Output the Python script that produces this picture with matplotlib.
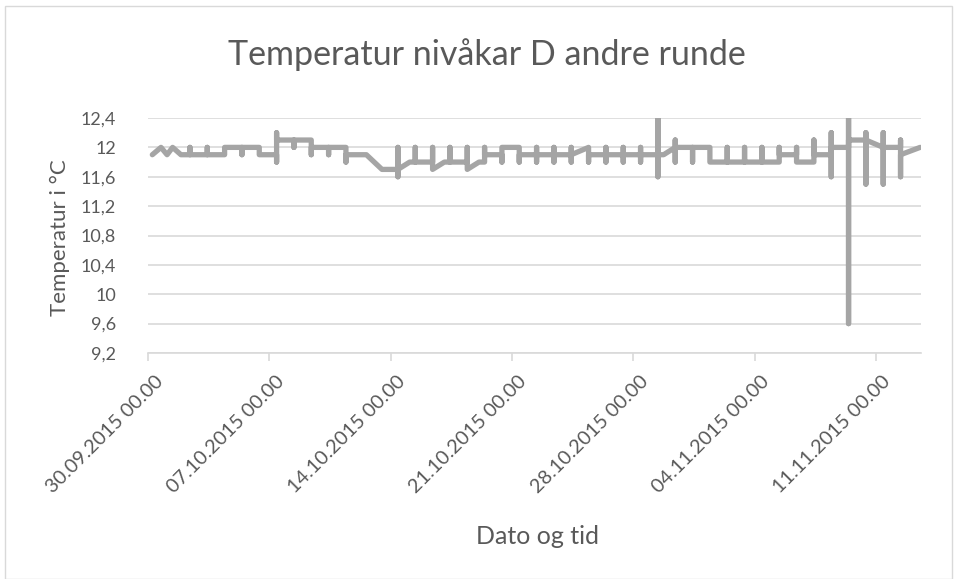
import matplotlib
matplotlib.use("Agg")
import matplotlib.pyplot as plt
from matplotlib.patches import Rectangle

# Time in days since 30.09.2015 00.00 and temperature readings (°C)
day_offset = [
    0.25, 0.75, 1.1,
    1.42, 1.9,
    2.42, 2.42, 2.42,
    3.42, 3.42, 3.42,
    4.42, 4.42,
    5.42, 5.42, 5.42,
    6.42, 6.42,
    7.42, 7.42, 7.42, 7.42,
    8.42, 8.42, 8.42,
    9.42, 9.42, 9.42,
    10.42, 10.42, 10.42,
    11.42, 11.42, 11.42,
    12.6, 13.5,
    14.42, 14.42, 14.42, 14.42, 15.1,
    15.42, 15.42, 15.42,
    16.42, 16.42, 16.42, 17.1,
    17.42, 17.42, 17.42,
    18.42, 18.42, 18.42, 19.1,
    19.42, 19.42, 19.42,
    20.42, 20.42, 20.42,
    21.42, 21.42, 21.42,
    22.42, 22.42, 22.42, 22.42,
    23.42, 23.42, 23.42, 23.42,
    24.42, 24.42, 24.42, 24.42,
    25.42, 25.42, 25.42,
    26.42, 26.42, 26.42, 26.42,
    27.42, 27.42, 27.42, 27.42,
    28.42, 28.42, 28.42, 28.42,
    29.42, 29.42, 29.42, 29.42, 29.75,
    30.42, 30.42, 30.42, 30.42,
    31.42, 31.42, 31.42,
    32.42, 32.42,
    33.42, 33.42, 33.42,
    34.42, 34.42, 34.42,
    35.42, 35.42, 35.42,
    36.42, 36.42, 36.42,
    37.42, 37.42, 37.42,
    38.42, 38.42, 38.42, 38.42,
    39.42, 39.42, 39.42, 39.42,
    40.42, 40.42, 40.42, 40.42,
    41.42, 41.42, 41.42, 41.42,
    42.42, 42.42, 42.42, 42.42,
    43.42, 43.42, 43.42, 43.42,
    44.55,
]
temp_c = [
    11.9, 12.0, 11.9,
    12.0, 11.9,
    11.9, 12.0, 11.9,
    11.9, 12.0, 11.9,
    11.9, 12.0,
    12.0, 11.9, 12.0,
    12.0, 11.9,
    11.9, 11.8, 12.2, 12.1,
    12.1, 12.0, 12.1,
    12.1, 11.9, 12.0,
    12.0, 11.9, 12.0,
    12.0, 11.8, 11.9,
    11.9, 11.7,
    11.7, 12.0, 11.6, 11.7, 11.8,
    11.8, 12.0, 11.8,
    11.8, 12.0, 11.7, 11.8,
    11.8, 12.0, 11.8,
    11.8, 12.0, 11.7, 11.8,
    11.8, 12.0, 11.9,
    11.9, 11.8, 12.0,
    12.0, 11.8, 11.9,
    11.9, 12.0, 11.8, 11.9,
    11.9, 12.0, 11.8, 11.9,
    11.9, 12.0, 11.8, 11.9,
    12.0, 11.8, 11.9,
    11.9, 12.0, 11.8, 11.9,
    11.9, 12.0, 11.8, 11.9,
    11.9, 12.0, 11.8, 11.9,
    11.9, 12.5, 11.6, 11.9, 11.9,
    12.0, 12.1, 11.8, 12.0,
    12.0, 11.8, 12.0,
    12.0, 11.8,
    11.8, 12.0, 11.8,
    11.8, 12.0, 11.8,
    11.8, 12.0, 11.8,
    11.8, 12.0, 11.9,
    11.9, 12.0, 11.8,
    11.8, 12.1, 11.8, 11.9,
    11.9, 12.2, 11.6, 12.0,
    12.0, 12.4, 9.6, 12.1,
    12.1, 12.2, 11.5, 12.1,
    12.0, 12.2, 11.5, 12.0,
    12.0, 12.1, 11.6, 11.9,
    12.0,
]

x_ticks = [0, 7, 14, 21, 28, 35, 42]
x_labels = ["30.09.2015 00.00", "07.10.2015 00.00", "14.10.2015 00.00",
            "21.10.2015 00.00", "28.10.2015 00.00", "04.11.2015 00.00",
            "11.11.2015 00.00"]
y_ticks = [9.2, 9.6, 10.0, 10.4, 10.8, 11.2, 11.6, 12.0, 12.4]
y_labels = ["9,2", "9,6", "10", "10,4", "10,8", "11,2", "11,6", "12", "12,4"]

plt.rcParams['font.family'] = ['Lato', 'DejaVu Sans']
text_col = '#595959'
grid_col = '#D9D9D9'

fig = plt.figure(figsize=(9.57, 5.79), dpi=100)
W, H = 957, 579
fig.patches.append(Rectangle((5 / W, 0), 947 / W, 573 / H, transform=fig.transFigure,
                             fill=False, edgecolor=grid_col, linewidth=1))

ax = fig.add_axes([148 / W, 1 - 353 / H, 773 / W, 235 / H])
ax.plot(day_offset, temp_c, color='#A5A5A5', linewidth=3.8,
        solid_capstyle='round', solid_joinstyle='round', zorder=3)

ax.set_xlim(0, 44.6)
ax.set_ylim(9.2, 12.4)
ax.set_yticks(y_ticks)
ax.set_yticklabels(y_labels, color=text_col, fontsize=13)
ax.set_xticks(x_ticks)
ax.set_xticklabels([])
for t, lab in zip(x_ticks, x_labels):
    ax.annotate(lab, xy=(t, 0), xycoords=('data', 'axes fraction'),
                xytext=(12, -26), textcoords='offset pixels', rotation=45,
                ha='right', va='center', rotation_mode='anchor',
                color=text_col, fontsize=14.3)
ax.grid(axis='y', color=grid_col, linewidth=1.2)
ax.set_axisbelow(True)
for s in ['top', 'right', 'left']:
    ax.spines[s].set_visible(False)
ax.spines['bottom'].set_color(grid_col)
ax.spines['bottom'].set_linewidth(1.2)
ax.tick_params(axis='y', length=0, pad=23)
ax.tick_params(axis='x', length=6, color=grid_col, width=1.2)

fig.text(60 / W, 1 - 238 / H, 'Temperatur i °C', color=text_col, fontsize=16,
         ha='center', va='center', rotation=90)
fig.text(537 / W, 1 - 537 / H, 'Dato og tid', color=text_col, fontsize=18,
         ha='center', va='center')
fig.text(487 / W, 1 - 55 / H, 'Temperatur nivåkar D andre runde', color=text_col,
         fontsize=24.5, ha='center', va='center')

fig.savefig('out.png', dpi=100)
